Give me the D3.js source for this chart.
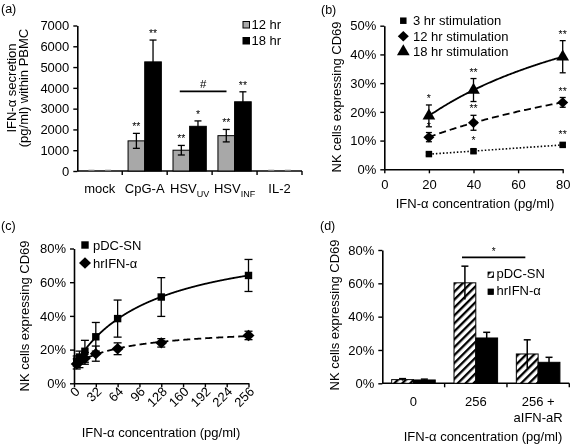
<!DOCTYPE html>
<html><head><meta charset="utf-8">
<script src="https://cdnjs.cloudflare.com/ajax/libs/d3/7.8.5/d3.min.js"></script>
<style>
body{margin:0;background:#fff;}
svg{display:block;font-family:"Liberation Sans",Arial,Helvetica,sans-serif;filter:grayscale(1);}
</style></head><body>
<svg id="chart" width="570" height="445"></svg>
<script>
// ---------- Panel (a) data ----------
const aCategories = ["mock", "CpG-A", "HSV_UV", "HSV_INF", "IL-2"];
const aSeriesNames = ["12 hr", "18 hr"];
const a12 = [0, 1450, 1000, 1700, 0];
const a12err = [0, 360, 230, 300, 0];
const a18 = [0, 5250, 2150, 3330, 0];
const a18err = [0, 1050, 260, 480, 0];
const a12sig = ["", "**", "**", "**", ""];
const a18sig = ["", "**", "*", "**", ""];
const aYTicks = [0, 1000, 2000, 3000, 4000, 5000, 6000, 7000];

// ---------- Panel (b) data ----------
const bConc = [20, 40, 80];
const bSeriesNames = ["3 hr stimulation", "12 hr stimulation", "18 hr stimulation"];
const b3 = [5.3, 6.3, 8.5];
const b3err = [0.5, 0.6, 0.6];
const b3sig = ["", "*", "**"];
const b12 = [11.2, 16.2, 23.3];
const b12err = [1.6, 2.6, 1.7];
const b12sig = ["*", "**", "**"];
const b18 = [18.6, 27.6, 39.2];
const b18err = [3.8, 4.0, 5.6];
const b18sig = ["*", "**", "**"];
const bXTicks = [0, 20, 40, 60, 80];
const bYTicks = [0, 10, 20, 30, 40, 50];

// ---------- Panel (c) data ----------
const cConc = [4, 8, 16, 32, 64, 128, 256];
const cSeriesNames = ["pDC-SN", "hrIFN-α"];
const cPDC = [13.2, 15.6, 19.0, 27.6, 38.4, 51.2, 64.0];
const cPDCerr = [3.0, 3.5, 6.5, 8.5, 11.0, 11.5, 9.5];
const cHR = [11.5, 12.8, 14.8, 17.6, 20.5, 24.0, 28.4];
const cHRerr = [3.0, 3.5, 3.5, 4.5, 3.5, 2.5, 2.5];
const cXTicks = [0, 32, 64, 96, 128, 160, 192, 224, 256];
const cYTicks = [0, 20, 40, 60, 80];

// ---------- Panel (d) data ----------
const dCategories = [["0"], ["256"], ["256 +", "aIFN-aR"]];
const dSeriesNames = ["pDC-SN", "hrIFN-α"];
const dPDC = [2.2, 60.3, 17.6];
const dPDCerr = [0.6, 10.0, 8.5];
const dHR = [2.0, 27.2, 12.6];
const dHRerr = [0.5, 3.4, 3.0];
const dYTicks = [0, 20, 40, 60, 80];

const svg = d3.select("#chart");
const FS = 13;
const pct = d => d + "%";

// rotated-square diamond symbol
const symbolDiamondSq = {
  draw(ctx, size) {
    const r = Math.sqrt(size / 2) * 1.0;
    const w = r * 1.05;
    ctx.moveTo(0, -r); ctx.lineTo(w, 0); ctx.lineTo(0, r); ctx.lineTo(-w, 0); ctx.closePath();
  }
};

// hatch pattern
const defs = svg.append("defs");
const pat = defs.append("pattern").attr("id", "hatch").attr("patternUnits", "userSpaceOnUse")
  .attr("width", 5.6).attr("height", 5.6).attr("patternTransform", "rotate(45)");
pat.append("rect").attr("width", 5.6).attr("height", 5.6).attr("fill", "#fff");
pat.append("rect").attr("width", 2.3).attr("height", 5.6).attr("fill", "#000");

function styleAxis(g) {
  g.attr("font-family", null).attr("font-size", null);
  g.selectAll("path.domain").attr("stroke", "#000").attr("stroke-width", 1.6);
  g.selectAll(".tick line").attr("stroke", "#000").attr("stroke-width", 1.4);
  g.selectAll(".tick text").attr("font-size", FS).attr("fill", "#000");
}

function panelLabel(t, x, y) {
  svg.append("text").attr("x", x).attr("y", y).attr("font-size", 12.5).text(t);
}

// least squares fit of y = a + b*x/(K+x) (grid over K)
function fitHyper(xs, ys) {
  let best = null;
  for (let lk = -1; lk <= 6; lk += 0.005) {
    const K = Math.pow(10, lk);
    const u = xs.map(x => x / (K + x));
    const n = u.length, mu = d3.mean(u), my = d3.mean(ys);
    let sxy = 0, sxx = 0;
    for (let i = 0; i < n; i++) { sxy += (u[i] - mu) * (ys[i] - my); sxx += (u[i] - mu) ** 2; }
    const b = sxy / sxx, a = my - b * mu;
    let sse = 0;
    for (let i = 0; i < n; i++) sse += (ys[i] - a - b * u[i]) ** 2;
    if (!best || sse < best.sse) best = { K, a, b, sse };
  }
  return x => best.a + best.b * x / (best.K + x);
}

// ================= Panel (a) =================
(function () {
  const x = d3.scaleBand().domain(aCategories).range([77.3, 302]).paddingInner(0).paddingOuter(0);
  const y = d3.scaleLinear().domain([0, 7000]).range([171, 25.5]);
  const x2 = d3.scaleBand().domain(aSeriesNames).range([0, x.bandwidth()]).paddingInner(0).paddingOuter(0.35);
  const g = svg.append("g");
  const gy = g.append("g").attr("transform", `translate(77.3,0)`)
    .call(d3.axisLeft(y).tickValues(aYTicks).tickSize(4).tickSizeOuter(0).tickPadding(4).tickFormat(d3.format("d")));
  styleAxis(gy);
  const gx = g.append("g").attr("transform", `translate(0,171)`);
  gx.append("line").attr("x1", 77.3).attr("x2", 302).attr("stroke", "#000").attr("stroke-width", 1.6);
  const bounds = aCategories.map(c => x(c)).concat([x(aCategories[4]) + x.bandwidth()]);
  gx.selectAll("line.tk").data(bounds.slice(1)).join("line").attr("class", "tk")
    .attr("x1", d => d).attr("x2", d => d).attr("y1", 0).attr("y2", 4).attr("stroke", "#000").attr("stroke-width", 1.4);
  const labs = gx.selectAll("text.cat").data(aCategories).join("text").attr("class", "cat")
    .attr("x", d => x(d) + x.bandwidth() / 2).attr("y", 21.5).attr("text-anchor", "middle").attr("font-size", FS);
  labs.each(function (d) {
    const t = d3.select(this);
    if (d.includes("_")) {
      const [m, s] = d.split("_");
      t.append("tspan").text(m);
      t.append("tspan").attr("dy", 4).attr("font-size", 9).text(s);
    } else t.text(d);
  });
  const series = [
    { name: aSeriesNames[0], v: a12, e: a12err, s: a12sig, fill: "#a8a8a8" },
    { name: aSeriesNames[1], v: a18, e: a18err, s: a18sig, fill: "#000" }
  ];
  series.forEach(sr => {
    aCategories.forEach((c, i) => {
      const bx = x(c) + x2(sr.name), bw = x2.bandwidth();
      const cx = bx + bw / 2;
      if (sr.v[i] <= 0) {
        g.append("line").attr("x1", cx - 3).attr("x2", cx + 3).attr("y1", y(0) - 1).attr("y2", y(0) - 1).attr("stroke", "#bbb").attr("stroke-width", 1);
        return;
      }
      g.append("rect").attr("x", bx).attr("y", y(sr.v[i])).attr("width", bw).attr("height", y(0) - y(sr.v[i]))
        .attr("fill", sr.fill).attr("stroke", "#000").attr("stroke-width", 1);
      const hi = y(sr.v[i] + sr.e[i]), lo = y(sr.v[i] - sr.e[i]);
      g.append("line").attr("x1", cx).attr("x2", cx).attr("y1", hi).attr("y2", lo).attr("stroke", "#000").attr("stroke-width", 1.3);
      [hi, lo].forEach(yy => g.append("line").attr("x1", cx - 3.5).attr("x2", cx + 3.5).attr("y1", yy).attr("y2", yy).attr("stroke", "#000").attr("stroke-width", 1.3));
      if (sr.s[i]) g.append("text").attr("x", cx).attr("y", hi - 3).attr("text-anchor", "middle").attr("font-size", 10.5).text(sr.s[i]);
    });
  });
  const bx1 = x("HSV_UV") + x.bandwidth() * 0.28, bx2 = x("HSV_INF") + x.bandwidth() * 0.32;
  g.append("line").attr("x1", bx1).attr("x2", bx2).attr("y1", y(3830)).attr("y2", y(3830)).attr("stroke", "#000").attr("stroke-width", 1.6);
  g.append("text").attr("x", (bx1 + bx2) / 2).attr("y", y(3830) - 3).attr("text-anchor", "middle").attr("font-size", 11.5).text("#");
  series.forEach((sr, i) => {
    g.append("rect").attr("x", 243).attr("y", 21.5 + i * 16).attr("width", 6.5).attr("height", 6.5)
      .attr("fill", sr.fill).attr("stroke", "#000").attr("stroke-width", 1);
    g.append("text").attr("x", 251.5).attr("y", 29 + i * 16).attr("font-size", FS).text(sr.name);
  });
  const yt = g.append("text").attr("transform", "translate(15.5,88) rotate(-90)").attr("text-anchor", "middle").attr("font-size", FS);
  yt.append("tspan").attr("x", 0).attr("dy", 0).text("IFN-α secretion");
  yt.append("tspan").attr("x", 0).attr("dy", 12.5).text("(pg/ml) within PBMC");
  panelLabel("(a)", 1, 13);
})();

// ================= Panel (b) =================
(function () {
  const x = d3.scaleLinear().domain([0, 80]).range([384.3, 562.7]);
  const y = d3.scaleLinear().domain([0, 50]).range([169.3, 25.7]);
  const g = svg.append("g");
  const gy = g.append("g").attr("transform", `translate(384.3,0)`)
    .call(d3.axisLeft(y).tickValues(bYTicks).tickSize(4).tickSizeOuter(0).tickPadding(4).tickFormat(pct));
  styleAxis(gy);
  const gx = g.append("g").attr("transform", `translate(0,169.3)`)
    .call(d3.axisBottom(x).tickValues(bXTicks).tickSize(4).tickSizeOuter(0).tickPadding(6).tickFormat(d3.format("d")));
  styleAxis(gx);
  const sym = [d3.symbolSquare, symbolDiamondSq, d3.symbolTriangle];
  const symSize = [42, 55, 70];
  const dash = ["1.5,2", "7,4", null];
  const series = [
    { v: b3, e: b3err, s: b3sig },
    { v: b12, e: b12err, s: b12sig },
    { v: b18, e: b18err, s: b18sig }
  ];
  series.forEach((sr, k) => {
    const f = fitHyper(bConc, sr.v);
    const xs = d3.range(bConc[0], bConc[bConc.length - 1] + 0.01, 0.5);
    g.append("path").attr("d", d3.line().x(d => x(d)).y(d => y(f(d)))(xs)).attr("fill", "none")
      .attr("stroke", "#000").attr("stroke-width", k === 0 ? 1.6 : 1.8).attr("stroke-dasharray", dash[k]);
    bConc.forEach((c, i) => {
      const cx = x(c), hi = y(sr.v[i] + sr.e[i]), lo = y(sr.v[i] - sr.e[i]);
      g.append("line").attr("x1", cx).attr("x2", cx).attr("y1", hi).attr("y2", lo).attr("stroke", "#000").attr("stroke-width", 1.3);
      [hi, lo].forEach(yy => g.append("line").attr("x1", cx - 3).attr("x2", cx + 3).attr("y1", yy).attr("y2", yy).attr("stroke", "#000").attr("stroke-width", 1.3));
      g.append("path").attr("d", d3.symbol(sym[k], symSize[k])()).attr("transform", `translate(${cx},${y(sr.v[i])})`).attr("fill", "#000");
      if (sr.s[i]) g.append("text").attr("x", cx).attr("y", Math.min(hi, y(sr.v[i]) - 4) - 3).attr("text-anchor", "middle").attr("font-size", 10.5).text(sr.s[i]);
    });
  });
  bSeriesNames.forEach((n, k) => {
    const ly = 20.7 + k * 15.5;
    g.append("path").attr("d", d3.symbol(sym[k], symSize[k])()).attr("transform", `translate(403.3,${ly})`).attr("fill", "#000");
    g.append("text").attr("x", 413).attr("y", ly + 4.5).attr("font-size", FS).text(n);
  });
  g.append("text").attr("transform", "translate(341,97) rotate(-90)").attr("text-anchor", "middle").attr("font-size", FS).text("NK cells expressing CD69");
  g.append("text").attr("x", 475).attr("y", 208).attr("text-anchor", "middle").attr("font-size", FS).text("IFN-α concentration (pg/ml)");
  panelLabel("(b)", 321, 14);
})();

// ================= Panel (c) =================
(function () {
  const x = d3.scaleLinear().domain([0, 256]).range([74, 248.5]);
  const y = d3.scaleLinear().domain([0, 80]).range([383.3, 248.5]);
  const g = svg.append("g");
  const gy = g.append("g").attr("transform", `translate(74,0)`)
    .call(d3.axisLeft(y).tickValues(cYTicks).tickSize(4).tickSizeOuter(0).tickPadding(4).tickFormat(pct));
  styleAxis(gy);
  const gx = g.append("g").attr("transform", `translate(0,383.3)`)
    .call(d3.axisBottom(x).tickValues(cXTicks).tickSize(4).tickSizeOuter(0).tickFormat(d3.format("d")));
  styleAxis(gx);
  gx.selectAll(".tick text").attr("text-anchor", "end").attr("dy", 0).attr("y", 0)
    .attr("transform", "translate(6,9) rotate(-45)");
  const sym = [d3.symbolSquare, symbolDiamondSq];
  const symSize = [55, 65];
  const dash = [null, "7,4"];
  const series = [{ v: cPDC, e: cPDCerr }, { v: cHR, e: cHRerr }];
  series.forEach((sr, k) => {
    const f = fitHyper(cConc, sr.v);
    const xs = d3.range(cConc[0], cConc[cConc.length - 1] + 0.01, 0.5);
    g.append("path").attr("d", d3.line().x(d => x(d)).y(d => y(f(d)))(xs)).attr("fill", "none")
      .attr("stroke", "#000").attr("stroke-width", 1.8).attr("stroke-dasharray", dash[k]);
    cConc.forEach((c, i) => {
      const cx = x(c), hi = y(sr.v[i] + sr.e[i]), lo = y(sr.v[i] - sr.e[i]);
      g.append("line").attr("x1", cx).attr("x2", cx).attr("y1", hi).attr("y2", lo).attr("stroke", "#000").attr("stroke-width", 1.3);
      [hi, lo].forEach(yy => g.append("line").attr("x1", cx - 4).attr("x2", cx + 4).attr("y1", yy).attr("y2", yy).attr("stroke", "#000").attr("stroke-width", 1.3));
      g.append("path").attr("d", d3.symbol(sym[k], symSize[k])()).attr("transform", `translate(${cx},${y(sr.v[i])})`).attr("fill", "#000");
    });
  });
  cSeriesNames.forEach((n, k) => {
    const ly = 245 + k * 18;
    g.append("path").attr("d", d3.symbol(sym[k], symSize[k])()).attr("transform", `translate(85,${ly})`).attr("fill", "#000");
    g.append("text").attr("x", 93).attr("y", ly + 4.5).attr("font-size", FS).text(n);
  });
  g.append("text").attr("transform", "translate(29,316) rotate(-90)").attr("text-anchor", "middle").attr("font-size", FS).text("NK cells expressing CD69");
  g.append("text").attr("x", 161).attr("y", 437).attr("text-anchor", "middle").attr("font-size", FS).text("IFN-α concentration (pg/ml)");
  panelLabel("(c)", 1, 230);
})();

// ================= Panel (d) =================
(function () {
  const catKeys = dCategories.map(d => d.join(" "));
  const x = d3.scaleBand().domain(catKeys).range([382.3, 569.3]).paddingInner(0).paddingOuter(0);
  const x2 = d3.scaleBand().domain(dSeriesNames).range([0, x.bandwidth()]).paddingOuter(0.43);
  const y = d3.scaleLinear().domain([0, 80]).range([383.3, 250]);
  const g = svg.append("g");
  const gy = g.append("g").attr("transform", `translate(382.3,0)`)
    .call(d3.axisLeft(y).tickValues(dYTicks).tickSize(4).tickSizeOuter(0).tickPadding(4).tickFormat(pct));
  styleAxis(gy);
  const gx = g.append("g").attr("transform", `translate(0,383.3)`);
  gx.append("line").attr("x1", 382.3).attr("x2", 569.3).attr("stroke", "#000").attr("stroke-width", 1.6);
  const bounds = catKeys.map(c => x(c)).concat([569.3]);
  gx.selectAll("line.tk").data(bounds.slice(1)).join("line").attr("class", "tk")
    .attr("x1", d => d).attr("x2", d => d).attr("y1", 0).attr("y2", 4).attr("stroke", "#000").attr("stroke-width", 1.4);
  dCategories.forEach((lines, i) => {
    const t = gx.append("text").attr("x", x(catKeys[i]) + x.bandwidth() / 2).attr("y", 23).attr("text-anchor", "middle").attr("font-size", FS);
    lines.forEach((ln, j) => t.append("tspan").attr("x", x(catKeys[i]) + x.bandwidth() / 2).attr("dy", j ? 15.5 : 0).text(ln));
  });
  const series = [
    { name: dSeriesNames[0], v: dPDC, e: dPDCerr, fill: "url(#hatch)" },
    { name: dSeriesNames[1], v: dHR, e: dHRerr, fill: "#000" }
  ];
  series.forEach(sr => {
    catKeys.forEach((c, i) => {
      const bx = x(c) + x2(sr.name), bw = x2.bandwidth();
      g.append("rect").attr("x", bx).attr("y", y(sr.v[i])).attr("width", bw).attr("height", y(0) - y(sr.v[i]))
        .attr("fill", sr.fill).attr("stroke", "#000").attr("stroke-width", 1);
      const cx = bx + bw / 2, hi = y(sr.v[i] + sr.e[i]), lo = y(sr.v[i] - sr.e[i]);
      g.append("line").attr("x1", cx).attr("x2", cx).attr("y1", hi).attr("y2", lo).attr("stroke", "#000").attr("stroke-width", 1.5);
      g.append("line").attr("x1", cx - 3.5).attr("x2", cx + 3.5).attr("y1", hi).attr("y2", hi).attr("stroke", "#000").attr("stroke-width", 1.5);
    });
  });
  const sx1 = x(catKeys[1]) + x2(dSeriesNames[0]) + 8, sx2 = x(catKeys[2]) + x2(dSeriesNames[0]) + 9;
  g.append("line").attr("x1", sx1).attr("x2", sx2).attr("y1", y(75.6)).attr("y2", y(75.6)).attr("stroke", "#000").attr("stroke-width", 1.6);
  g.append("text").attr("x", (sx1 + sx2) / 2).attr("y", y(75.6) - 2).attr("text-anchor", "middle").attr("font-size", 10).text("*");
  series.forEach((sr, k) => {
    const ly = 272 + k * 17;
    g.append("rect").attr("x", 488).attr("y", ly).attr("width", 5.5).attr("height", 5.5).attr("fill", sr.fill).attr("stroke", "#000").attr("stroke-width", 0.8);
    g.append("text").attr("x", 496.5).attr("y", ly + 6).attr("font-size", FS).text(sr.name);
  });
  g.append("text").attr("transform", "translate(339,315) rotate(-90)").attr("text-anchor", "middle").attr("font-size", FS).text("NK cells expressing CD69");
  g.append("text").attr("x", 483).attr("y", 441).attr("text-anchor", "middle").attr("font-size", FS).text("IFN-α concentration (pg/ml)");
  panelLabel("(d)", 320, 230);
})();
</script>
</body></html>
